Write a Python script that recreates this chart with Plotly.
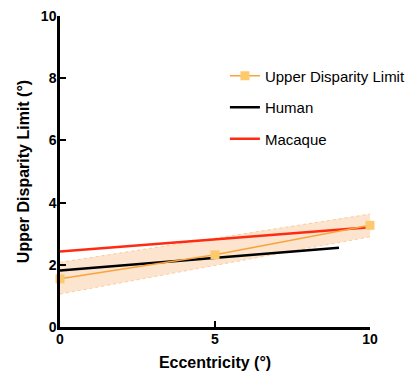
import plotly.graph_objects as go

ecc = [0, 5, 10]
udl = [1.55, 2.32, 3.27]
band_lower = [1.06, 1.98, 2.90]
band_upper = [2.08, 2.86, 3.63]
human_x = [0, 9]
human_y = [1.82, 2.55]
macaque_x = [0, 10]
macaque_y = [2.43, 3.21]

fig = go.Figure()
fig.add_trace(go.Scatter(x=ecc, y=band_upper, mode="lines",
                         line=dict(color="rgba(250,200,150,0.9)", width=1, dash="dot"),
                         showlegend=False, hoverinfo="skip"))
fig.add_trace(go.Scatter(x=ecc, y=band_lower, mode="lines", fill="tonexty",
                         fillcolor="rgba(250,205,165,0.55)",
                         line=dict(color="rgba(250,200,150,0.9)", width=1, dash="dot"),
                         showlegend=False, hoverinfo="skip"))
fig.add_trace(go.Scatter(x=human_x, y=human_y, mode="lines", name="Human",
                         line=dict(color="black", width=2.5), legendgroup="b", legendrank=2))
fig.add_trace(go.Scatter(x=macaque_x, y=macaque_y, mode="lines", name="Macaque",
                         line=dict(color="#ff2a12", width=2.5), legendgroup="c", legendrank=3))
fig.add_trace(go.Scatter(x=ecc, y=udl, mode="lines+markers", name="Upper Disparity Limit",
                         line=dict(color="#f7a43a", width=1.5),
                         marker=dict(symbol="square", size=9, color="#fcc96c"),
                         cliponaxis=False, legendgroup="a", legendrank=1))

axis_common = dict(showline=True, linecolor="black", linewidth=2.5, ticks="inside",
                   ticklen=6, tickwidth=2, tickcolor="black", showgrid=False, zeroline=False,
                   automargin=False,
                   tickfont=dict(family="Liberation Sans, Arial", size=14, color="black", weight="bold"),
                   title_font=dict(family="Liberation Sans, Arial", size=16, color="black", weight="bold"))

fig.update_xaxes(range=[0, 10], tickvals=[0, 5, 10], ticklabelstandoff=-3,
                 title_text="Eccentricity (°)", title_standoff=12, **axis_common)
fig.update_yaxes(range=[0, 10], tickvals=[0, 2, 4, 6, 8, 10], ticklabelstandoff=-2,
                 title_text="Upper Disparity Limit (°)", title_standoff=8, **axis_common)

fig.update_layout(width=405, height=376, margin=dict(l=60, r=35, t=16, b=49, autoexpand=False),
                  plot_bgcolor="white", paper_bgcolor="white",
                  legend=dict(x=0.532, y=0.86, xanchor="left", yanchor="top",
                              traceorder="grouped", tracegroupgap=9,
                              font=dict(family="Liberation Sans, Arial", size=15, color="black"),
                              bgcolor="rgba(0,0,0,0)"))
fig.write_html("out.html")
